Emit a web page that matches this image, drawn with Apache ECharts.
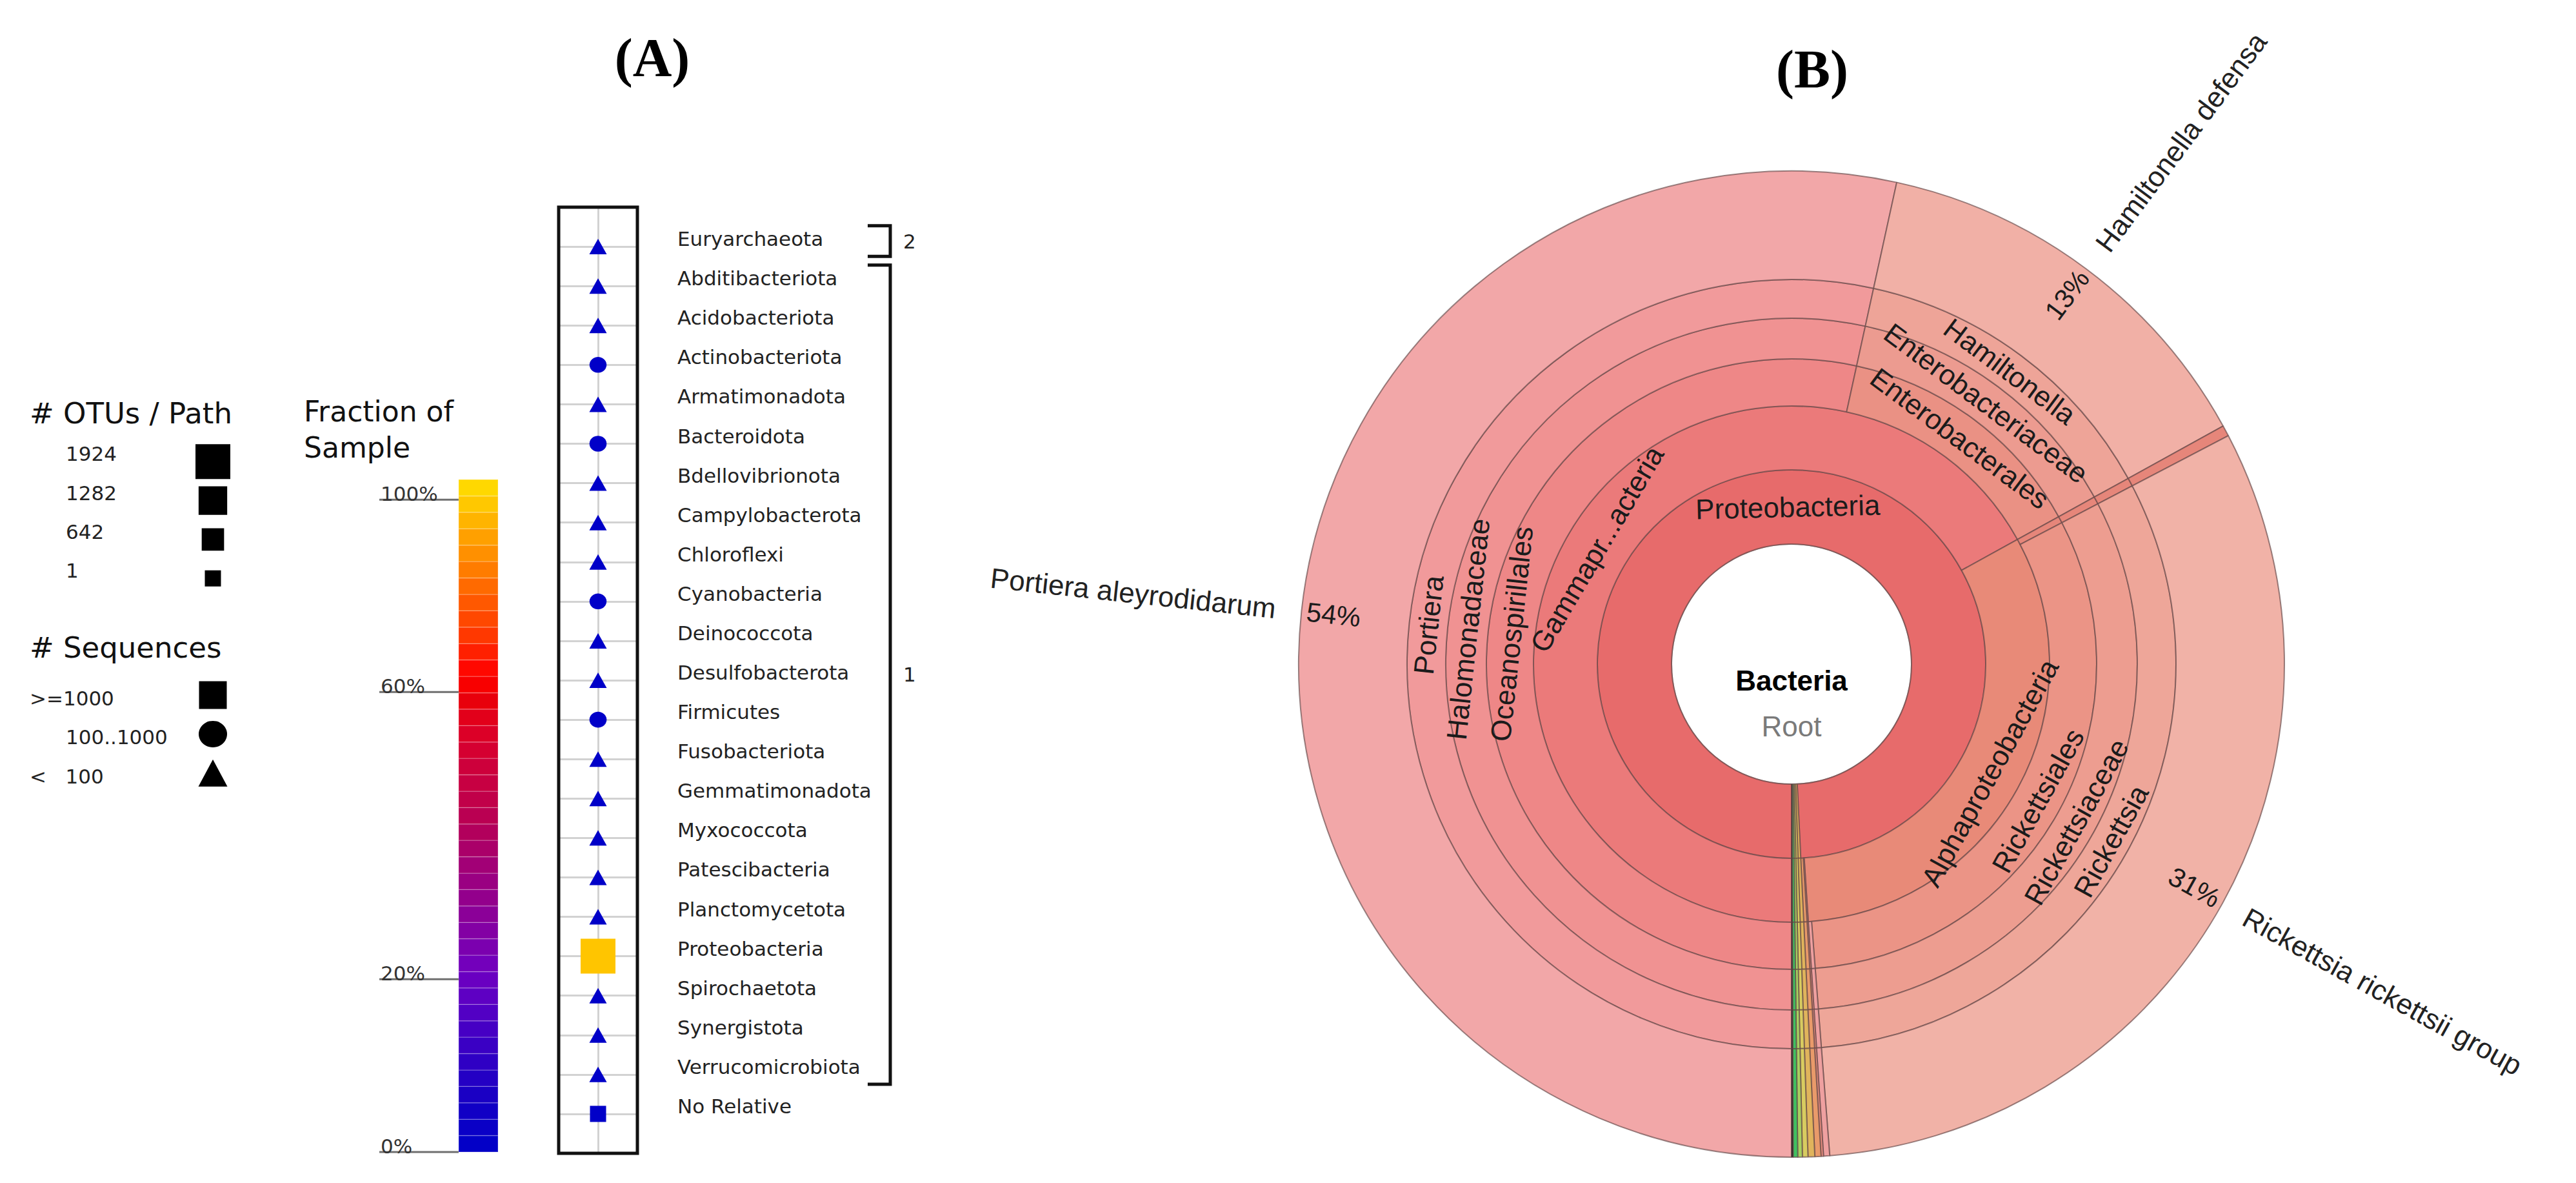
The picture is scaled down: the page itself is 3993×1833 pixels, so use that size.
<!DOCTYPE html>
<html><head><meta charset="utf-8">
<script src="https://cdn.jsdelivr.net/npm/echarts@6/dist/echarts.min.js"></script>
<style>html,body{margin:0;padding:0;background:#fff}#c{width:3993px;height:1833px}</style>
</head><body><div id="c"></div>
<script>
// ================= Panel A data =================
const phylumNames = ['Euryarchaeota','Abditibacteriota','Acidobacteriota','Actinobacteriota','Armatimonadota','Bacteroidota','Bdellovibrionota','Campylobacterota','Chloroflexi','Cyanobacteria','Deinococcota','Desulfobacterota','Firmicutes','Fusobacteriota','Gemmatimonadota','Myxococcota','Patescibacteria','Planctomycetota','Proteobacteria','Spirochaetota','Synergistota','Verrucomicrobiota','No Relative'];
const phylumSequenceClass = ['<100','<100','<100','100..1000','<100','100..1000','<100','<100','<100','100..1000','<100','<100','100..1000','<100','<100','<100','<100','<100','>=1000','<100','<100','<100','>=1000'];
const phylumOTUsPerPath = [3,4,6,40,3,45,5,4,6,35,3,5,50,3,4,6,5,8,1924,3,2,5,1];
const phylumFractionPct = [0.01,0.01,0.02,0.3,0.01,0.35,0.02,0.01,0.03,0.25,0.01,0.02,0.4,0.01,0.02,0.03,0.02,0.05,98.6,0.01,0.01,0.02,0.3];
const groupLabels = ['2','1'];
const groupFrom = ['Euryarchaeota','Abditibacteriota'];
const groupTo = ['Euryarchaeota','Verrucomicrobiota'];
const otuLegendValues = [1924, 1282, 642, 1];
const seqLegendLabels = ['>=1000', '100..1000', '<   100'];
const seqLegendClasses = ['>=1000', '100..1000', '<100'];
const fractionTickPct = [0, 20, 60, 100];
const fractionTickLabels = ['0%', '20%', '60%', '100%'];

// ================= Panel B data (Krona) =================
const kronaLineages = [
  ['Proteobacteria','Gammaproteobacteria','Oceanospirillales','Halomonadaceae','Portiera','Portiera aleyrodidarum'],
  ['Proteobacteria','Gammaproteobacteria','Enterobacterales','Enterobacteriaceae','Hamiltonella','Hamiltonella defensa'],
  ['Proteobacteria','Alphaproteobacteria','[unclassified Alphaproteobacteria]','[unclassified Alphaproteobacteria]','[unclassified Alphaproteobacteria]','[unclassified Alphaproteobacteria]'],
  ['Proteobacteria','Alphaproteobacteria','Rickettsiales','Rickettsiaceae','Rickettsia','Rickettsia rickettsii group'],
  ['Proteobacteria','Alphaproteobacteria','[other Alphaproteobacteria]','[other Alphaproteobacteria]','[other Alphaproteobacteria]','[other Alphaproteobacteria]'],
  ['Proteobacteria','[other Proteobacteria]','[other Proteobacteria]','[other Proteobacteria]','[other Proteobacteria]','[other Proteobacteria]'],
  ['Proteobacteria','[unclassified Proteobacteria]','[unclassified Proteobacteria]','[unclassified Proteobacteria]','[unclassified Proteobacteria]','[unclassified Proteobacteria]'],
  ['Firmicutes','Firmicutes','Firmicutes','Firmicutes','Firmicutes','Firmicutes'],
  ['Bacteroidota','Bacteroidota','Bacteroidota','Bacteroidota','Bacteroidota','Bacteroidota'],
  ['Cyanobacteria','Cyanobacteria','Cyanobacteria','Cyanobacteria','Cyanobacteria','Cyanobacteria'],
  ['Actinobacteriota','Actinobacteriota','Actinobacteriota','Actinobacteriota','Actinobacteriota','Actinobacteriota'],
  ['[other Bacteria]','[other Bacteria]','[other Bacteria]','[other Bacteria]','[other Bacteria]','[other Bacteria]']
];
const kronaValues = [53.2, 13.5, 0.35, 31.3, 0.2, 0.08, 0.2, 0.22, 0.18, 0.15, 0.15, 0.05];
const kronaPercentLabels = ['54%','13%','','31%','','','','','','','',''];
const kronaShortNames = {'Gammaproteobacteria': 'Gammapr...acteria'};

// ================= styles =================
const FONT_A = 'DejaVu Sans';
const FONT_B = 'Liberation Sans';
const kronaColors = {
  'Proteobacteria':'#e76b6b','Gammaproteobacteria':'#eb7a7a','Oceanospirillales':'#ee8787','Halomonadaceae':'#f09292',
  'Portiera':'#f19a9b','Portiera aleyrodidarum':'#f2a7a8','Enterobacterales':'#ea9184','Enterobacteriaceae':'#ec9b90',
  'Hamiltonella':'#eea498','Hamiltonella defensa':'#f1b0a6','Alphaproteobacteria':'#e88a78','Rickettsiales':'#eb9486',
  'Rickettsiaceae':'#ed9d90','Rickettsia':'#eea699','Rickettsia rickettsii group':'#f1b2a7',
  '[unclassified Alphaproteobacteria]':'#e6867a','[other Alphaproteobacteria]':'#efa0a0','[other Proteobacteria]':'#eb8f80',
  '[unclassified Proteobacteria]':'#e99a6a','Firmicutes':'#e0b45c','Bacteroidota':'#d8cc60','Cyanobacteria':'#a8d060',
  'Actinobacteriota':'#40c060','[other Bacteria]':'#101010'
};
const barStops = [[0,'#0000c8'],[0.07,'#1400c4'],[0.12,'#2800c4'],[0.17,'#4000c4'],[0.22,'#5800c4'],[0.27,'#7000c0'],
  [0.32,'#8000a8'],[0.37,'#900090'],[0.42,'#a0007a'],[0.47,'#b0005e'],[0.52,'#c0004a'],[0.57,'#cc003c'],[0.62,'#dc0028'],
  [0.671,'#e8000c'],[0.695,'#f80000'],[0.72,'#ff0800'],[0.744,'#ff2000'],[0.768,'#ff3800'],[0.793,'#ff4800'],[0.817,'#ff5800'],
  [0.842,'#ff6a00'],[0.866,'#ff7c00'],[0.89,'#ff9000'],[0.915,'#ffa000'],[0.939,'#ffb400'],[0.964,'#ffc800'],[1,'#ffe000']];
const tickBarPos = [0, 0.257, 0.684, 0.970];
const bandCount = 41;
const barX0 = 0.668;

function hexToRgb(h){ return [parseInt(h.substr(1,2),16),parseInt(h.substr(3,2),16),parseInt(h.substr(5,2),16)]; }
function barColor(f){
  f = Math.max(0, Math.min(1, f));
  for (let i = 1; i < barStops.length; i++) {
    if (f <= barStops[i][0]) {
      const a = barStops[i-1], b = barStops[i];
      const t = (f - a[0]) / (b[0] - a[0]);
      const ca = hexToRgb(a[1]), cb = hexToRgb(b[1]);
      return 'rgb(' + ca.map((v,k)=>Math.round(v + (cb[k]-v)*t)).join(',') + ')';
    }
  }
  return barStops[barStops.length-1][1];
}
function pctToBar(p){
  for (let i = 1; i < fractionTickPct.length; i++) {
    if (p <= fractionTickPct[i]) {
      const t = (p - fractionTickPct[i-1]) / (fractionTickPct[i] - fractionTickPct[i-1]);
      return tickBarPos[i-1] + t * (tickBarPos[i] - tickBarPos[i-1]);
    }
  }
  return tickBarPos[tickBarPos.length-1];
}
function symbolFor(cls){ return cls === '>=1000' ? 'rect' : (cls === '100..1000' ? 'circle' : 'triangle'); }
function otuSize(n){ return 25 + 29 * (n - 1) / 1923; }
function symbolSizeFor(cls, n){
  const s = otuSize(n);
  if (cls === '<100') return [s * 1.08, s * 0.96];
  if (cls === '100..1000') return [s * 1.04, s * 0.96];
  return s;
}

const yCats = [' '].concat(phylumNames, ['  ']);

function buildKronaTree(styleFn){
  const root = {name:'Bacteria', children:[]};
  kronaLineages.forEach((path, i) => {
    let node = root;
    path.forEach(name => {
      node.children = node.children || [];
      let child = node.children.find(c => c.name === name);
      if (!child) { child = {name:name}; node.children.push(child); }
      node = child;
    });
    node.value = kronaValues[i];
    node.pct = kronaPercentLabels[i];
  });
  (function walk(n, d){ styleFn(n, d); (n.children || []).forEach(c => walk(c, d+1)); })(root, 0);
  return [root];
}

const ringR = [[0,186],[186,301],[301,400],[400,473],[473,536],[536,596],[596,764]];
const sbBorder = {borderColor:'rgba(100,70,70,0.65)', borderWidth:2};
const ringLabel = {show:true, fontFamily:FONT_B, fontSize:44, color:'#1b1b1b', rotate:'tangential', minAngle:4};

const levels1 = [{}];
ringR.forEach((rr, i) => {
  const lv = {r0: rr[0], r: rr[1], itemStyle: Object.assign({}, sbBorder)};
  if (i === 0) {
    lv.itemStyle.color = '#ffffff';
    lv.label = {show:true, rotate:0, formatter:'{b|Bacteria}\n{r|Root}', padding:[122,0,0,0],
      rich:{b:{fontFamily:FONT_B, fontWeight:'bold', fontSize:44, color:'#000', lineHeight:71},
            r:{fontFamily:FONT_B, fontSize:44, color:'#7a7a7a', lineHeight:71}}};
  } else if (i === ringR.length - 1) {
    lv.label = Object.assign({}, ringLabel, {rotate:'radial', align:'right', distance:8, fontSize:42, minAngle:5,
      formatter: p => (p.data && p.data.pct) || ''});
  } else {
    lv.label = Object.assign({}, ringLabel);
  }
  levels1.push(lv);
});
const levels2 = [{}];
ringR.forEach((rr, i) => {
  const lv = {r0: rr[0], r: rr[1], itemStyle:{color:'rgba(0,0,0,0)', borderWidth:0}, label:{show:false}};
  if (i === ringR.length - 1) {
    lv.label = {show:true, position:'outside', rotate:'radial', distance:40, fontFamily:FONT_B, fontSize:44,
      color:'#222', minAngle:5, formatter:'{b}'};
  }
  levels2.push(lv);
});

const kronaData1 = buildKronaTree((n) => {
  if (kronaColors[n.name]) n.itemStyle = {color: kronaColors[n.name]};
  if (kronaShortNames[n.name]) n.label = {formatter: kronaShortNames[n.name]};
});
const kronaData2 = buildKronaTree((n) => { n.itemStyle = {color:'rgba(0,0,0,0)', borderWidth:0}; });

const otuRows = otuLegendValues.map((v, i) => i);
const seqRows = seqLegendLabels.map((v, i) => 6 + i);

const option = {
  animation: false,
  backgroundColor: '#ffffff',
  textStyle: {fontFamily: FONT_A},
  graphic: [
    {type:'text', x:1011, y:89, style:{text:'(A)', fontFamily:'Liberation Serif', fontWeight:'bold', fontSize:84, fill:'#000', align:'center', verticalAlign:'middle'}},
    {type:'text', x:2809, y:107, style:{text:'(B)', fontFamily:'Liberation Serif', fontWeight:'bold', fontSize:84, fill:'#000', align:'center', verticalAlign:'middle'}},
    {type:'text', x:46, y:640, style:{text:'# OTUs / Path', fontFamily:FONT_A, fontSize:45, fill:'#111', align:'left', verticalAlign:'middle'}},
    {type:'text', x:46, y:1003, style:{text:'# Sequences', fontFamily:FONT_A, fontSize:45, fill:'#111', align:'left', verticalAlign:'middle'}},
    {type:'text', x:471, y:637, style:{text:'Fraction of', fontFamily:FONT_A, fontSize:44, fill:'#111', align:'left', verticalAlign:'middle'}},
    {type:'text', x:471, y:693, style:{text:'Sample', fontFamily:FONT_A, fontSize:44, fill:'#111', align:'left', verticalAlign:'middle'}}
  ],
  grid: [
    {left:866, top:321, width:122, height:1466, show:true, borderWidth:0, backgroundColor:'#fff'},
    {left:588, top:743, width:184, height:1042},
    {left:1345, top:321, width:35, height:1466},
    {left:300, top:655, width:60, height:603}
  ],
  xAxis: [
    {gridIndex:0, type:'value', min:-1, max:1, interval:1, axisLine:{show:false}, axisTick:{show:false}, axisLabel:{show:false},
      splitLine:{show:true, lineStyle:{color:'#d2d2d2', width:3}}},
    {gridIndex:1, type:'value', min:0, max:1, show:false},
    {gridIndex:2, type:'value', min:0, max:1, show:false},
    {gridIndex:3, type:'value', min:0, max:1, show:false}
  ],
  yAxis: [
    {gridIndex:0, type:'category', data:yCats, inverse:true, boundaryGap:false, position:'right',
      axisLine:{show:false}, axisTick:{show:false},
      splitLine:{show:true, lineStyle:{color:'#d2d2d2', width:3}},
      axisLabel:{interval:0, margin:62, fontSize:31, fontFamily:FONT_A, color:'#222', verticalAlign:'bottom', lineHeight:24}},
    {gridIndex:1, type:'value', min:0, max:1, show:false},
    {gridIndex:2, type:'category', data:yCats, inverse:true, boundaryGap:false, show:false},
    {gridIndex:3, type:'value', min:-1, max:9, inverse:true, show:false}
  ],
  series: [
    {type:'scatter', xAxisIndex:0, yAxisIndex:0, z:5,
      data: phylumNames.map((n, i) => ({
        value:[0, n],
        symbol: symbolFor(phylumSequenceClass[i]),
        symbolSize: symbolSizeFor(phylumSequenceClass[i], phylumOTUsPerPath[i]),
        itemStyle:{color: barColor(pctToBar(phylumFractionPct[i])), opacity:1}
      }))},
    {type:'custom', xAxisIndex:0, yAxisIndex:0, silent:true, z:8,
      data:[[0, 0]],
      renderItem: (params, api) => {
        const a = api.coord([-1, 0]);
        const b = api.coord([1, yCats.length - 1]);
        return {type:'rect', shape:{x:a[0], y:a[1], width:b[0]-a[0], height:b[1]-a[1]},
          style:{fill:null, stroke:'#111', lineWidth:5}};
      }},
    {type:'custom', xAxisIndex:1, yAxisIndex:1, silent:true,
      data: Array.from({length:bandCount}, (v, i) => [barX0, i / bandCount]),
      renderItem: (params, api) => {
        const i = params.dataIndex;
        const p0 = api.coord([barX0, i / bandCount]);
        const p1 = api.coord([1, (i + 1) / bandCount]);
        return {type:'rect', shape:{x:p0[0], y:p1[1], width:p1[0]-p0[0], height:p0[1]-p1[1]},
          style:{fill: barColor((i + 0.5) / bandCount), stroke:'rgba(255,255,255,0.22)', lineWidth:1.5}};
      }},
    {type:'custom', xAxisIndex:1, yAxisIndex:1, silent:true, z:4,
      data: fractionTickPct.map(p => [0, pctToBar(p)]),
      renderItem: (params, api) => {
        const a = api.coord([0, api.value(1)]);
        const b = api.coord([barX0, api.value(1)]);
        return {type:'group', children:[
          {type:'line', shape:{x1:a[0], y1:a[1], x2:b[0], y2:b[1]}, style:{stroke:'#6f6f6f', lineWidth:3}},
          {type:'text', x:a[0] + 2, y:a[1] + 6, style:{text: fractionTickLabels[params.dataIndex], fontFamily:FONT_A, fontSize:31, fill:'#333', align:'left', verticalAlign:'bottom'}}
        ]};
      }},
    {type:'custom', xAxisIndex:2, yAxisIndex:2, silent:true,
      data: groupFrom.map((f, i) => [0, yCats.indexOf(f), yCats.indexOf(groupTo[i])]),
      renderItem: (params, api) => {
        const top = api.coord([0, api.value(1)]);
        const bot = api.coord([1, api.value(2)]);
        const band = api.coord([0, 1])[1] - api.coord([0, 0])[1];
        const x0 = top[0], x1 = bot[0];
        const t = top[1] - 0.53 * band, b = bot[1] + 0.25 * band;
        return {type:'group', children:[
          {type:'polyline', shape:{points:[[x0,t],[x1,t],[x1,b],[x0,b]]}, style:{stroke:'#111', lineWidth:5, fill:null}},
          {type:'text', x:x1 + 20, y:(t + b) / 2, style:{text: groupLabels[params.dataIndex], fontFamily:FONT_A, fontSize:31, fill:'#222', align:'left', verticalAlign:'middle'}}
        ]};
      }},
    {type:'scatter', xAxisIndex:3, yAxisIndex:3, silent:true,
      data: otuLegendValues.map((v, i) => ({value:[0.5, otuRows[i]], symbol:'rect', symbolSize: otuSize(v),
        label:{show:true, position:'inside', align:'left', verticalAlign:'middle', offset:[-228, -12], formatter: String(v),
          fontFamily:FONT_A, fontSize:31, color:'#222'}})),
      itemStyle:{color:'#000', opacity:1}},
    {type:'scatter', xAxisIndex:3, yAxisIndex:3, silent:true,
      data: seqLegendLabels.map((t, i) => ({value:[0.5, seqRows[i]], symbol: symbolFor(seqLegendClasses[i]),
        symbolSize: seqLegendClasses[i] === '<100' ? [45, 42] : (seqLegendClasses[i] === '100..1000' ? [44, 41] : 43),
        label:{show:true, position:'inside', align:'left', verticalAlign:'middle',
          offset:[t.indexOf('100..') === 0 ? -228 : -284, 5], formatter: t,
          fontFamily:FONT_A, fontSize:31, color:'#222'}})),
      itemStyle:{color:'#000', opacity:1}},
    {type:'sunburst', center:[2777, 1029], radius:[0, 764], startAngle:-90, clockwise:true, sort:null,
      nodeClick:false, silent:true, data: kronaData1, levels: levels1, emphasis:{disabled:true}},
    {type:'sunburst', center:[2777, 1029], radius:[0, 764], startAngle:-90, clockwise:true, sort:null,
      nodeClick:false, silent:true, z:3, data: kronaData2, levels: levels2, emphasis:{disabled:true}}
  ]
};

const chart = echarts.init(document.getElementById('c'), null, {renderer:'svg', width:3993, height:1833});
chart.setOption(option);
</script>
</body></html>
